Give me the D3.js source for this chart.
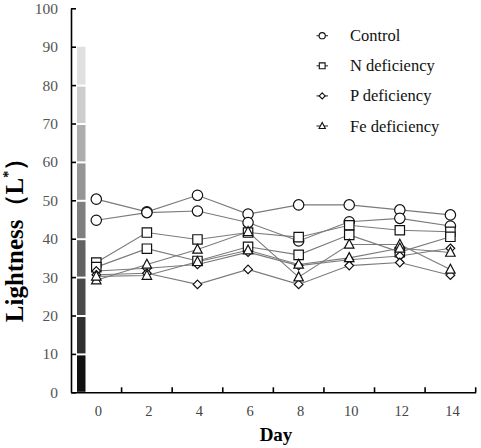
<!DOCTYPE html>
<html>
<head>
<meta charset="utf-8">
<script src="https://cdn.jsdelivr.net/npm/d3@7"></script>
<style>
  html, body { margin: 0; padding: 0; background: #fff; }
  svg { display: block; }
  .serif { font-family: "Liberation Serif", "Times New Roman", Times, serif; }
</style>
</head>
<body>
<svg id="chart" width="481" height="448"></svg>
<script>
// ---- data ----
const days = ["0", "2", "4", "6", "8", "10", "12", "14"];
const yTicks = [0, 10, 20, 30, 40, 50, 60, 70, 80, 90, 100];
const scaleBands = [0, 10, 20, 30, 40, 50, 60, 70, 80];
const scaleColors = ["#111111", "#303030", "#4a4a4a", "#626262", "#7f7f7f", "#959595", "#adadad", "#cdcdcd", "#e0e0e0"];

const controlA = [50.3, 47.0, 51.3, 46.4, 48.8, 48.8, 47.5, 46.2];
const controlB = [44.8, 46.8, 47.2, 44.2, 39.4, 44.4, 45.3, 43.3];
const nA = [33.8, 41.6, 39.8, 41.6, 40.4, 43.5, 42.2, 41.8];
const nB = [32.6, 37.4, 34.2, 37.9, 35.8, 41.0, 36.5, 40.5];
const pA = [31.6, 32.3, 33.3, 36.5, 33.0, 34.5, 35.5, 37.5];
const pB = [30.6, 31.0, 28.1, 32.0, 28.1, 33.0, 33.8, 30.5];
const feA = [29.2, 33.3, 37.2, 41.8, 30.0, 38.5, 38.5, 32.0];
const feB = [30.2, 30.4, 34.0, 37.0, 33.3, 35.0, 37.5, 36.4];

const seriesNames = ["Control", "N deficiency", "P deficiency", "Fe deficiency"];
const seriesSymbols = ["circle", "square", "diamond", "triangle"];
const seriesLines = [[controlA, controlB], [nA, nB], [pA, pB], [feA, feB]];

// ---- layout ----
const svg = d3.select("#chart");
const mLeft = 71, mRight = 475.7, mTop = 8.3, mBottom = 392.3;

const x = d3.scaleBand().domain(days).range([mLeft, mRight]).padding(0);
const y = d3.scaleLinear().domain([0, 100]).range([mBottom, mTop]);

// gray scale bar
svg.append("g").selectAll("rect").data(scaleBands).join("rect")
  .attr("x", mLeft + 6)
  .attr("width", 8.5)
  .attr("y", d => y(d + 10) + (d === 80 ? 0 : 1.5))
  .attr("height", d => y(d) - y(d + 10) - (d === 80 ? 0 : 1.5) - 0.5)
  .attr("fill", (d, i) => scaleColors[i]);

// lines
const line = d3.line().x((d, i) => x(days[i]) + x.bandwidth() / 2).y(d => y(d));
const allLines = [];
seriesLines.forEach((pair, si) => pair.forEach(vals => allLines.push({ si, vals })));

svg.append("g").selectAll("path").data(allLines).join("path")
  .attr("d", d => line(d.vals))
  .attr("fill", "none")
  .attr("stroke", "#7a7a7a")
  .attr("stroke-width", 1.1);

// markers
function symbolPath(kind, s) {
  if (kind === "circle") return d3.symbol(d3.symbolCircle, Math.PI * s * s)();
  if (kind === "square") return d3.symbol(d3.symbolSquare, (2 * s) * (2 * s))();
  if (kind === "diamond") return `M0,${-s}L${s},0L0,${s}L${-s},0Z`;
  if (kind === "triangle") return `M0,${-s * 1.05}L${s * 0.95},${s * 0.75}L${-s * 0.95},${s * 0.75}Z`;
}
const sizes = { circle: 5.2, square: 4.7, diamond: 4.3, triangle: 5.0 };
const pts = [];
allLines.forEach(l => l.vals.forEach((v, i) => pts.push({ si: l.si, v, i })));
svg.append("g").selectAll("path").data(pts).join("path")
  .attr("transform", d => `translate(${x(days[d.i]) + x.bandwidth() / 2},${y(d.v)})`)
  .attr("d", d => symbolPath(seriesSymbols[d.si], sizes[seriesSymbols[d.si]]))
  .attr("fill", "#fff")
  .attr("stroke", "#111")
  .attr("stroke-width", 1.2);

// y axis
const yAxis = d3.axisLeft(y).tickValues(yTicks).tickSizeInner(-5).tickSizeOuter(0).tickPadding(13);
const gy = svg.append("g").attr("transform", `translate(${mLeft},0)`).call(yAxis);
gy.attr("font-family", null).attr("class", "serif");
gy.select(".domain").attr("stroke", "#000").attr("stroke-width", 1.6);
gy.selectAll(".tick line").attr("stroke", "#000").attr("stroke-width", 1.6);
gy.selectAll(".tick text").attr("class", "serif").attr("font-size", 15.5).attr("fill", "#555");

// x axis
const xAxis = d3.axisBottom(x).tickSizeInner(0).tickSizeOuter(0).tickPadding(13);
const gx = svg.append("g").attr("transform", `translate(0,${mBottom})`).call(xAxis);
gx.attr("font-family", null).attr("class", "serif");
gx.select(".domain").attr("stroke", "#000").attr("stroke-width", 1.6);
gx.selectAll(".tick text").attr("class", "serif").attr("font-size", 14.5).attr("fill", "#444").attr("dx", 2);
gx.selectAll(".bound").data(days).join("line").attr("class", "bound")
  .attr("x1", d => x(d) + x.bandwidth()).attr("x2", d => x(d) + x.bandwidth())
  .attr("y1", 0).attr("y2", -5)
  .attr("stroke", "#000").attr("stroke-width", 1.6);

// axis titles
svg.append("text")
  .attr("class", "serif")
  .attr("x", 276).attr("y", 441)
  .attr("text-anchor", "middle")
  .attr("font-weight", "bold").attr("font-size", 19)
  .attr("fill", "#000")
  .text("Day");

const yt = svg.append("text")
  .attr("class", "serif")
  .attr("transform", "translate(23,234) rotate(-90)")
  .attr("text-anchor", "middle")
  .attr("font-weight", "bold").attr("font-size", 25)
  .attr("fill", "#000");
yt.append("tspan").text("Lightness（L");
yt.append("tspan").attr("font-size", 14).attr("dy", -10).text("*");
yt.append("tspan").attr("dy", 10).text("）");

// legend
const lg = svg.append("g");
seriesNames.forEach((name, i) => {
  const cy = 35.7 + i * 30.1;
  const g = lg.append("g").attr("transform", `translate(0,${cy})`);
  g.append("line").attr("x1", 316.5).attr("x2", 328).attr("y1", 0).attr("y2", 0)
    .attr("stroke", "#333").attr("stroke-width", 1.1);
  const s = { circle: 3.1, square: 2.9, diamond: 3.0, triangle: 3.3 }[seriesSymbols[i]];
  g.append("path").attr("transform", "translate(322.2,0)")
    .attr("d", symbolPath(seriesSymbols[i], s))
    .attr("fill", "#fff").attr("stroke", "#111").attr("stroke-width", 1.1);
  g.append("text").attr("class", "serif").attr("x", 350).attr("y", 5.5)
    .attr("font-size", 16.5).attr("fill", "#111")
    .text(name);
});
</script>
</body>
</html>
